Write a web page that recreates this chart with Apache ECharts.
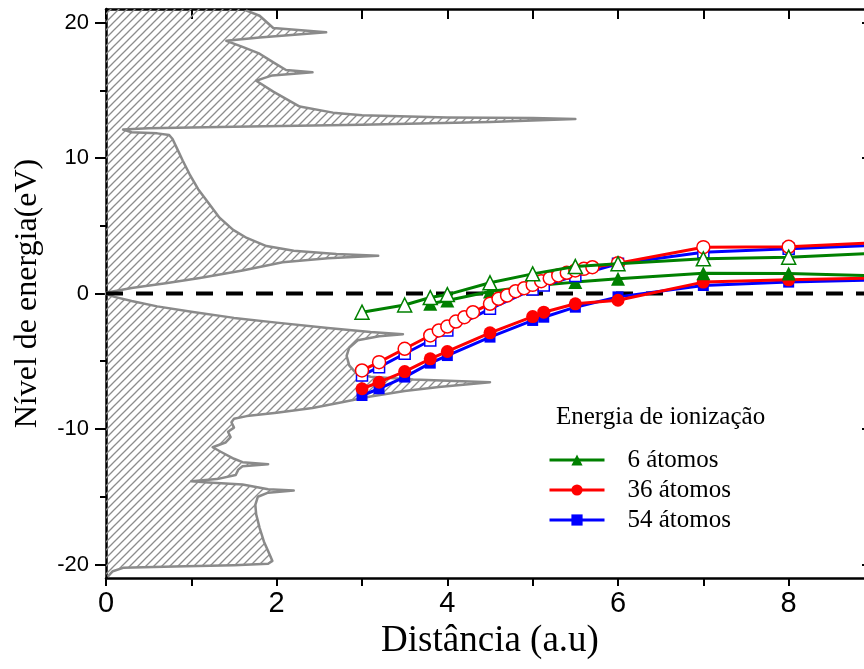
<!DOCTYPE html>
<html><head><meta charset="utf-8">
<script src="https://cdn.jsdelivr.net/npm/echarts@6/dist/echarts.min.js"></script>
<style>html,body{margin:0;padding:0;background:#fff}#c{width:864px;height:669px}</style>
</head><body><div id="c"></div>
<script>
// ---- axis ticks / labels ----
const xTickLabels = [0, 2, 4, 6, 8];
const xTicks = [0, 1, 2, 3, 4, 5, 6, 7, 8, 9];
const yTickLabels = [-20, -10, 0, 10, 20];
const yMinorTicks = [-15, -5, 5, 15];

// ---- density of states (drawn horizontally: density vs energy) ----
const dosEnergy = [-21,-20.9,-20.5,-20.25,-20.15,-20.05,-19.95,-19.75,-19.3,-18.3,-17.3,-16.3,-15.6,-15.0,-14.7,-14.55,-14.45,-14.1,-13.95,-13.85,-13.7,-13.4,-13.0,-12.75,-12.6,-12.45,-12.2,-11.7,-11.35,-11.0,-10.6,-10.2,-9.9,-9.5,-9.25,-9.05,-8.8,-8.45,-8.05,-7.6,-7.2,-6.9,-6.55,-6.35,-6.15,-5.8,-5.3,-4.6,-4.0,-3.45,-3.15,-3.0,-2.85,-2.55,-2.15,-1.8,-1.35,-0.95,-0.55,-0.25,-0.05,
  0.05,0.4,0.75,1.15,1.7,2.3,2.6,2.78,2.92,3.15,3.5,4.1,4.7,5.6,6.6,7.7,8.8,9.8,10.6,11.4,11.7,11.82,11.9,12.1,12.2,12.3,12.45,12.65,12.88,12.95,13.0,13.15,13.35,13.8,14.9,15.7,15.9,16.1,16.33,16.5,16.95,17.3,17.7,18.2,18.65,18.9,19.28,19.6,20.5,20.9,21,21];
const dosDensity = [0,0.02,0.08,0.2,0.8,1.5,1.9,1.95,1.92,1.85,1.8,1.76,1.75,1.78,1.9,2.2,1.9,1.6,1.2,1.0,1.3,1.52,1.55,1.6,1.9,1.6,1.5,1.35,1.25,1.4,1.46,1.43,1.5,1.47,1.5,1.65,2.0,2.42,2.75,3.1,3.5,3.9,4.5,3.6,3.1,2.92,2.85,2.82,2.85,2.95,3.2,3.48,3.1,2.6,2.0,1.5,1.0,0.6,0.3,0.1,0,
  0,0.3,0.7,1.1,1.6,2.07,2.6,3.19,2.7,2.2,1.88,1.65,1.49,1.33,1.21,1.08,0.98,0.9,0.84,0.78,0.74,0.6,0.3,0.2,0.5,1.5,3.0,4.5,5.5,5.0,4.0,3.0,2.66,2.27,1.96,1.76,1.85,1.95,2.42,2.11,1.99,1.9,1.8,1.6,1.41,1.8,2.58,1.96,1.8,1.64,1.6,0];

// ---- ionisation energy series ----
const x6 = [3.0, 3.5, 3.8, 4.0, 4.5, 5.0, 5.5, 6, 7, 8, 9];
const six_upper = [-1.38, -0.85, -0.3, -0.08, 0.79, 1.45, 1.99, 2.2, 2.56, 2.68, 2.97];
const x6low = [3.8, 4.0, 4.5, 5.0, 5.5, 6, 7, 8, 9];
const six_lower = [-0.76, -0.52, 0.15, 0.55, 0.84, 1.08, 1.5, 1.48, 1.3];

const x36 = [3.0, 3.2, 3.5, 3.8, 4.0, 4.5, 5.0, 5.13, 5.5, 6, 7, 8, 9];
const t36_lower = [-7.03, -6.55, -5.76, -4.82, -4.28, -2.9, -1.70, -1.38, -0.76, -0.5, 0.84, 1.01, 1.15];
const x36up = [3.0, 3.2, 3.5, 3.8, 3.9, 4.0, 4.1, 4.2, 4.3, 4.5, 4.6, 4.7, 4.8, 4.9, 5.0, 5.1, 5.2, 5.3, 5.4, 5.5, 5.6, 5.7, 6, 7, 8, 9];
const t36_upper = [-5.68, -5.07, -4.08, -3.1, -2.73, -2.44, -2.07, -1.75, -1.38, -0.76, -0.39, -0.15, 0.17, 0.39, 0.64, 0.91, 1.13, 1.33, 1.53, 1.7, 1.82, 1.94, 2.24, 3.42, 3.45, 3.75];

const x54 = [3.0, 3.2, 3.5, 3.8, 4.0, 4.5, 5.0, 5.13, 5.5, 6, 7, 8, 9];
const f54_lower = [-7.53, -7.03, -6.17, -5.14, -4.58, -3.22, -1.99, -1.75, -1.01, -0.25, 0.59, 0.84, 1.0];
const f54_upper = [-6.05, -5.44, -4.45, -3.47, -2.73, -1.13, 0.3, 0.59, 1.3, 2.19, 3.05, 3.3, 3.55];

const GREEN = '#008000', RED = '#ff0000', BLUE = '#0000ff';

function pairs(xs, ys) { return xs.map((x, i) => [x, ys[i]]); }
function lineSeries(name, xs, ys, color, symbol, size, hollow, z) {
  return {
    type: 'line', name: name, data: pairs(xs, ys), z: z,
    symbol: symbol, symbolSize: size, showSymbol: true,
    lineStyle: { color: color, width: 3 },
    itemStyle: hollow ? { color: '#fff', borderColor: color, borderWidth: 1.5 } : { color: color, borderWidth: 0 },
    emphasis: { disabled: true }
  };
}

const hatch = document.createElement('canvas');
hatch.width = 8; hatch.height = 8;
(function () {
  const g = hatch.getContext('2d');
  g.strokeStyle = '#8c8c8c'; g.lineWidth = 1.3;
  g.beginPath();
  g.moveTo(0, 8); g.lineTo(8, 0);
  g.moveTo(-2, 2); g.lineTo(2, -2);
  g.moveTo(6, 10); g.lineTo(10, 6);
  g.stroke();
})();

const chart = echarts.init(document.getElementById('c'), null, { renderer: 'canvas' });
const axisFont = "'Liberation Sans', Arial, sans-serif";
const serif = "'Liberation Serif', 'Times New Roman', serif";

chart.setOption({
  animation: false,
  backgroundColor: '#fff',
  title: {
    text: 'Energia de ionização', left: 556, top: 405, padding: 0,
    textStyle: { fontFamily: serif, fontSize: 25, fontWeight: 'normal', color: '#000' }
  },
  legend: {
    data: ['6 átomos', '36 átomos', '54 átomos'],
    orient: 'vertical', left: 548, top: 445, padding: 0,
    itemWidth: 55, itemHeight: 14, itemGap: 0,
    selectedMode: false,
    lineStyle: { width: 3 },
    textStyle: { fontFamily: serif, fontSize: 25, color: '#000', lineHeight: 30, padding: [0, 0, 0, 18] }
  },
  grid: { left: 106, top: 9, width: 768, height: 569, containLabel: false, outerBoundsMode: 'none' },
  xAxis: [
    {
      type: 'value', position: 'bottom', min: 0, max: 9, interval: 1,
      name: 'Distância (a.u)', nameLocation: 'middle', nameGap: 40,
      nameTextStyle: { fontFamily: serif, fontSize: 37, color: '#000' },
      axisLine: { show: true, onZero: false, lineStyle: { color: '#000', width: 2.5 } },
      axisTick: { show: true, inside: false, length: 8, lineStyle: { color: '#000', width: 2 }, customValues: xTicks },
      axisLabel: { customValues: xTickLabels, fontFamily: axisFont, fontSize: 29, color: '#000', margin: 11 },
      splitLine: { show: false }
    },
    {
      type: 'value', position: 'top', min: 0, max: 9, interval: 1,
      axisLine: { show: true, onZero: false, lineStyle: { color: '#000', width: 2.5 } },
      axisTick: { show: true, inside: true, length: 10, lineStyle: { color: '#000', width: 2 }, customValues: xTicks },
      axisLabel: { show: false }, splitLine: { show: false }
    }
  ],
  yAxis: [
    {
      type: 'value', position: 'left', min: -21, max: 21,
      name: 'Nível de energia(eV)', nameLocation: 'middle', nameGap: 62,
      nameTextStyle: { fontFamily: serif, fontSize: 32, color: '#000' },
      axisLine: { show: true, onZero: false, lineStyle: { color: '#000', width: 2.5 } },
      axisTick: { show: true, inside: false, length: 11, lineStyle: { color: '#000', width: 2 }, customValues: yTickLabels },
      axisLabel: { customValues: yTickLabels, fontFamily: axisFont, fontSize: 22, color: '#000', margin: 17 },
      splitLine: { show: false }
    },
    {
      type: 'value', position: 'left', min: -21, max: 21,
      axisLine: { show: false },
      axisTick: { show: true, inside: false, length: 6, lineStyle: { color: '#000', width: 2 }, customValues: yMinorTicks },
      axisLabel: { show: false }, splitLine: { show: false }
    },
    {
      type: 'value', position: 'right', min: -21, max: 21,
      axisLine: { show: true, onZero: false, lineStyle: { color: '#000', width: 2.5 } },
      axisTick: { show: true, inside: true, length: 12, lineStyle: { color: '#000', width: 2 }, customValues: yTickLabels },
      axisLabel: { show: false }, splitLine: { show: false }
    }
  ],
  series: [
    {
      type: 'custom', name: 'DOS', z: 1, silent: true,
      data: pairs(dosDensity, dosEnergy),
      encode: { x: 0, y: 1 },
      renderItem: function (params, api) {
        if (params.dataIndex !== 0) return null;
        const pts = dosDensity.map((d, i) => api.coord([d, dosEnergy[i]]));
        return {
          type: 'group', children: [
            { type: 'polygon', shape: { points: pts }, style: { fill: { image: hatch, repeat: 'repeat' }, stroke: null } },
            { type: 'polyline', shape: { points: pts.slice(1, pts.length - 2) }, style: { fill: null, stroke: '#8a8a8a', lineWidth: 2.5, lineJoin: 'round' } }
          ]
        };
      }
    },
    {
      type: 'line', name: 'zero', data: [[0, 0], [9, 0]], z: 2, symbol: 'none', silent: true,
      lineStyle: { color: '#000', width: 4, type: [17, 13] }
    },
    lineSeries('54 átomos', x54, f54_lower, BLUE, 'rect', 11, false, 3),
    lineSeries('36 átomos', x36, t36_lower, RED, 'circle', 13, false, 4),
    lineSeries('6 átomos', x6low, six_lower, GREEN, 'triangle', 14, false, 5),
    lineSeries('54 átomos (superior)', x54, f54_upper, BLUE, 'rect', 11, true, 6),
    lineSeries('36 átomos (superior)', x36up, t36_upper, RED, 'circle', 13, true, 7),
    lineSeries('6 átomos (superior)', x6, six_upper, GREEN, 'triangle', 14, true, 8)
  ]
});
</script>
</body></html>
